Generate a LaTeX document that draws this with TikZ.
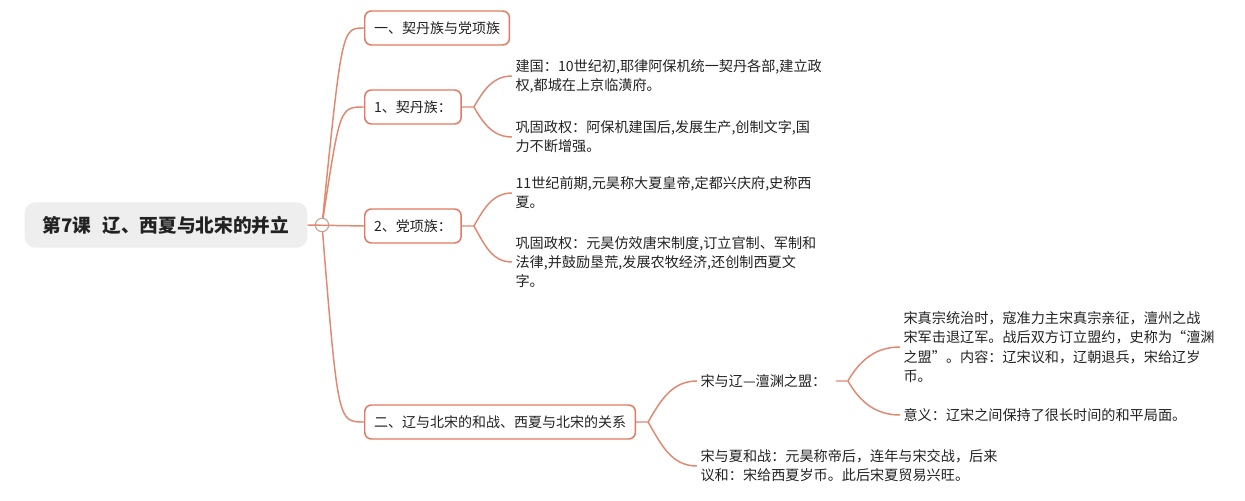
\documentclass[tikz,border=0pt]{standalone}
\usepackage{fontspec}
\setmainfont{Noto Sans CJK SC}
\usepackage{xcolor}
\usepackage{tikz}
\usetikzlibrary{positioning,calc}
\definecolor{branch}{RGB}{224,136,112}
\definecolor{edge}{RGB}{226,120,96}
\definecolor{rootbg}{RGB}{238,238,238}
\definecolor{hubline}{RGB}{190,162,150}
\definecolor{ink}{RGB}{34,34,34}

\begin{document}
\begin{tikzpicture}[
    x=0.75pt, y=-0.75pt,
    topic/.style={draw=edge, line width=1.1pt, rounded corners=5pt, fill=white, minimum height=25.5pt, inner xsep=7pt, anchor=west, text=ink, font=\fontsize{10.5}{13}\selectfont},
    txt/.style={anchor=west, align=left, inner xsep=2.5pt, text=ink, font=\fontsize{10.6}{14.3}\selectfont},
    link/.style={draw=branch, line width=1.1pt},
]
  \useasboundingbox (0,0) rectangle (1245,500);

  % central topic
  \node[fill=rootbg, rounded corners=8pt, minimum width=212pt, minimum height=34pt, text=ink, font=\fontsize{14}{16}\selectfont\bfseries] (root) at (166,225) {第7课\hspace{0.6em}辽、西夏与北宋的并立};
  \node[circle, draw=hubline, line width=0.8pt, minimum size=10pt, inner sep=0pt] (hub) at (322,225) {};

  % main topics
  \node[topic] (zu) at (364,28) {一、契丹族与党项族};
  \node[topic] (qd) at (364,107) {1、契丹族：};
  \node[topic] (dx) at (364,226) {2、党项族：};
  \node[topic] (hz) at (364,422) {二、辽与北宋的和战、西夏与北宋的关系};

  \draw[link] (root.east) -- (dx.west);
  \draw[link] (hub) .. controls (342,28) .. (zu.west);
  \draw[link] (hub) .. controls (340,107) .. (qd.west);
  \draw[link] (hub) .. controls (338,422) .. (hz.west);

  % 契丹族
  \node[txt] (jg) at (512,76) {建国：10世纪初,耶律阿保机统一契丹各部,建立政\\权,都城在上京临潢府。};
  \node[txt] (gg1) at (512,137) {巩固政权：阿保机建国后,发展生产,创制文字,国\\力不断增强。};
  \coordinate (fqd) at ($(qd.east)+(12,0)$);
  \draw[link] (qd.east) -- (fqd) to[out=60, in=180] (jg.west);
  \draw[link] (fqd) to[out=-60, in=180] (gg1.west);

  % 党项族
  \node[txt] (xx) at (512,193) {11世纪前期,元昊称大夏皇帝,定都兴庆府,史称西\\夏。};
  \node[txt] (gg2) at (512,262) {巩固政权：元昊仿效唐宋制度,订立官制、军制和\\法律,并鼓励垦荒,发展农牧经济,还创制西夏文\\字。};
  \coordinate (fdx) at ($(dx.east)+(12,0)$);
  \draw[link] (dx.east) -- (fdx) to[out=60, in=180] (xx.west);
  \draw[link] (fdx) to[out=-60, in=180] (gg2.west);

  % 和战与关系
  \node[txt] (cy) at (697,381) {宋与辽—澶渊之盟：};
  \node[txt] (sx) at (697,466) {宋与夏和战：元昊称帝后，连年与宋交战，后来\\议和：宋给西夏岁币。此后宋夏贸易兴旺。};
  \coordinate (fhz) at ($(hz.east)+(12,0)$);
  \draw[link] (hz.east) -- (fhz) to[out=60, in=180] (cy.west);
  \draw[link] (fhz) to[out=-60, in=180] (sx.west);

  \node[txt] (nr) at (900,347) {宋真宗统治时，寇准力主宋真宗亲征，澶州之战\\宋军击退辽军。战后双方订立盟约，史称为“澶渊\\之盟”。内容：辽宋议和，辽朝退兵，宋给辽岁\\币。};
  \node[txt] (yy) at (900,415) {意义：辽宋之间保持了很长时间的和平局面。};
  \coordinate (fcy) at ($(cy.east)+(18,0)$);
  \draw[link] ($(cy.east)+(6,0)$) -- (fcy) to[out=60, in=180] (nr.west);
  \draw[link] (fcy) to[out=-60, in=180] (yy.west);
\end{tikzpicture}
\end{document}
